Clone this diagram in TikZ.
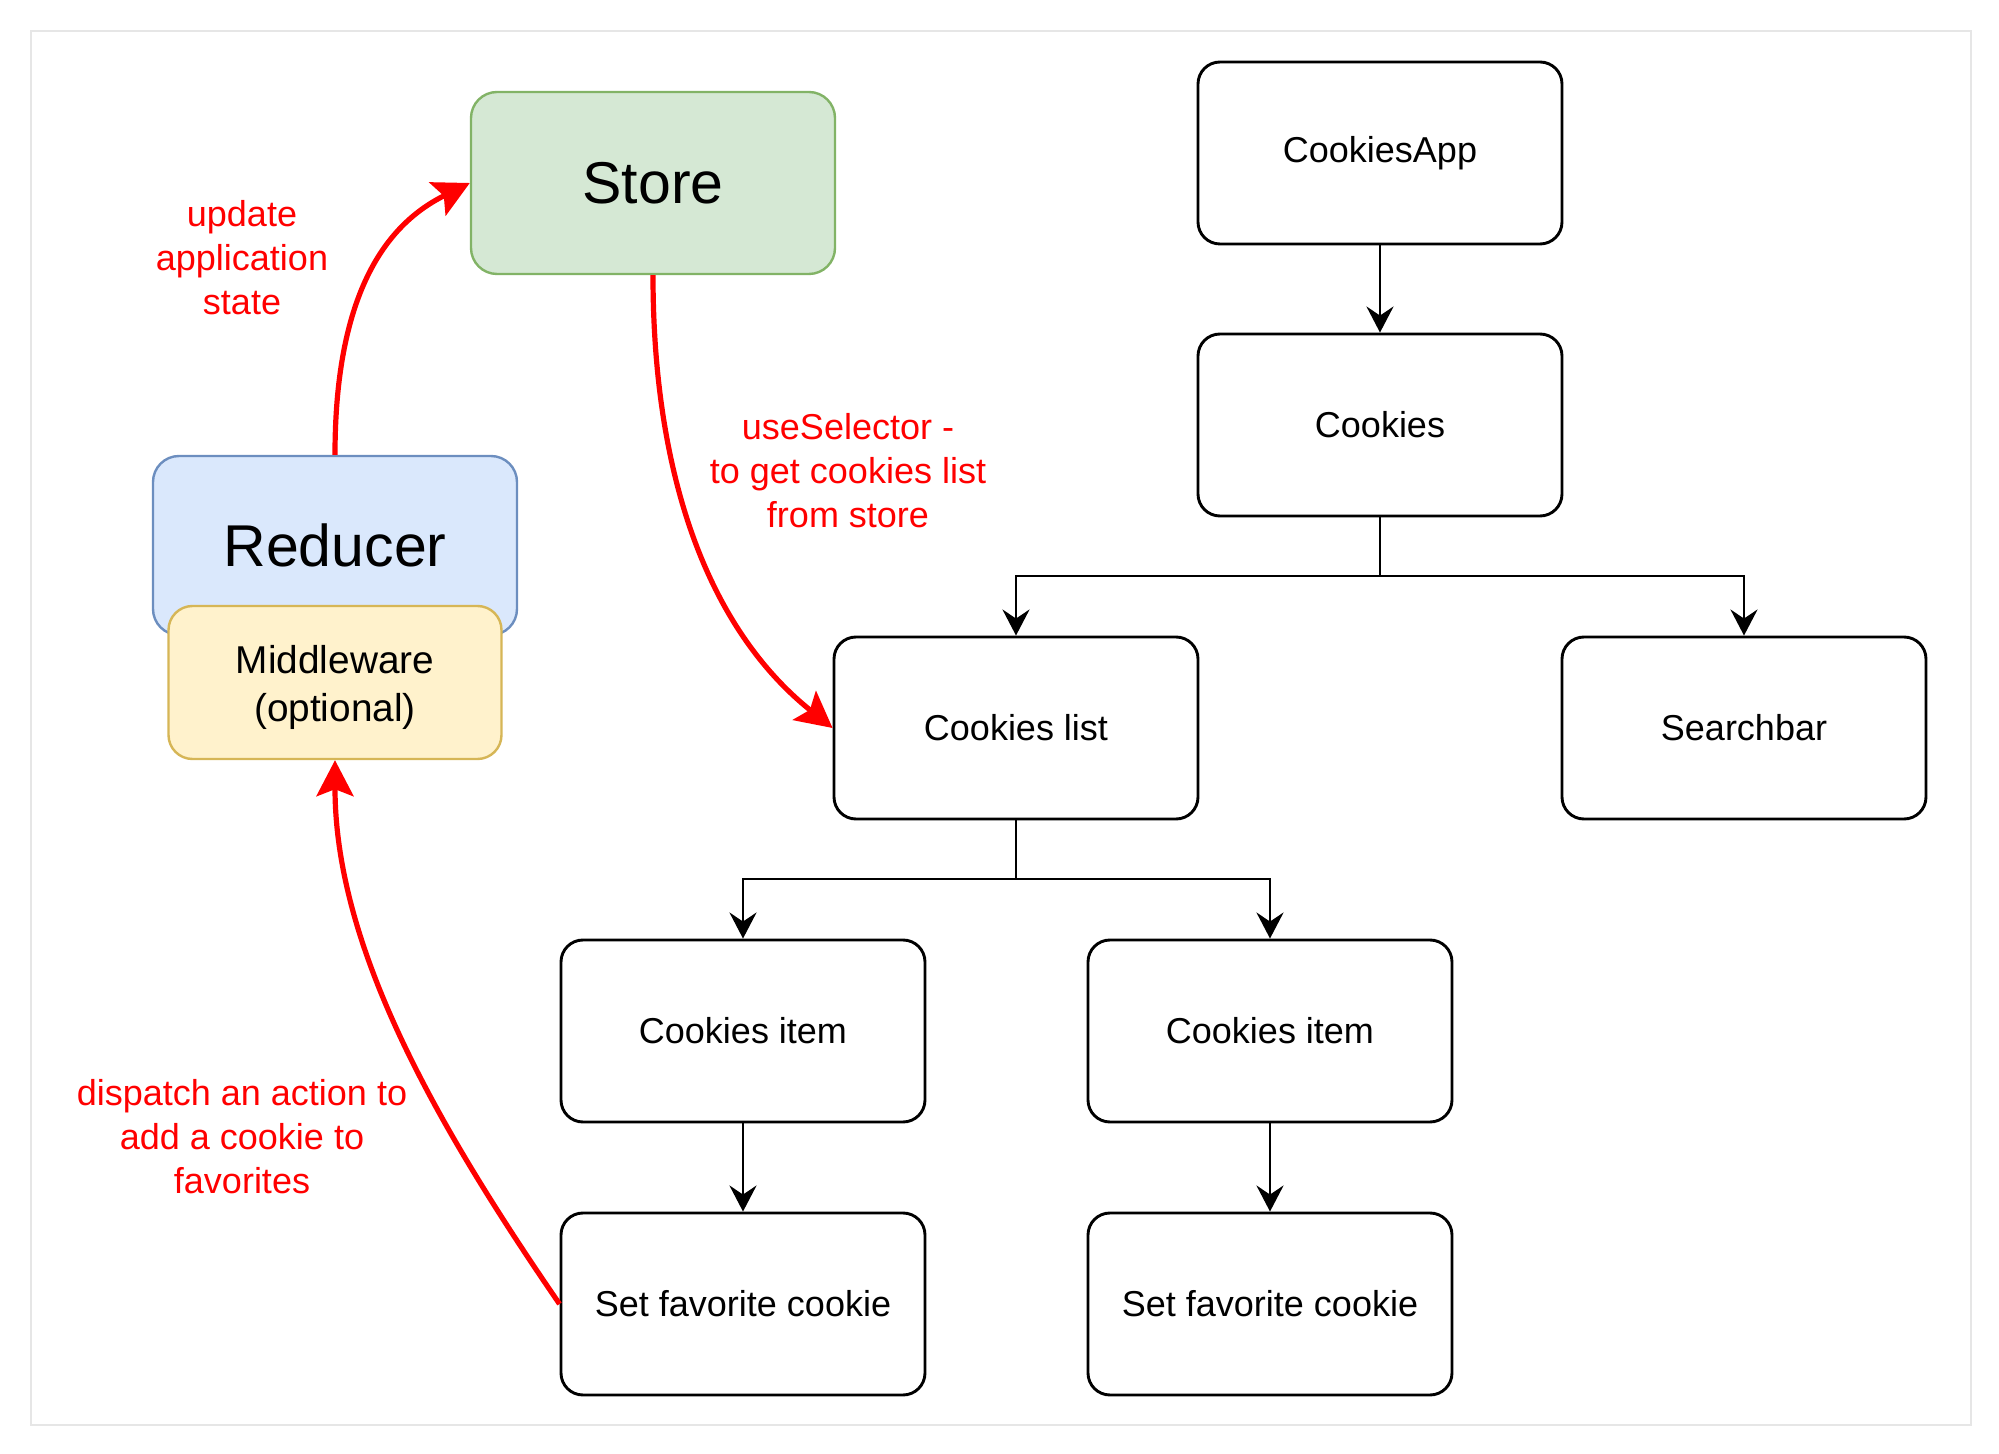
\documentclass[tikz,border=0pt]{standalone}
\usepackage{fontspec}
\setmainfont{Liberation Sans}
\usetikzlibrary{arrows.meta}
\definecolor{storefill}{HTML}{D5E8D4}
\definecolor{storeline}{HTML}{82B366}
\definecolor{redfill}{HTML}{DAE8FC}
\definecolor{redline}{HTML}{6C8EBF}
\definecolor{midfill}{HTML}{FFF2CC}
\definecolor{midline}{HTML}{D6B656}
\definecolor{framegray}{HTML}{E6E6E6}
\definecolor{labelred}{HTML}{FF0000}
\begin{document}
\begin{tikzpicture}[x=0.5pt,y=-0.5pt,
  box/.style={draw=black, line width=1.45pt, rounded corners=11pt, minimum width=182pt, minimum height=91pt, inner sep=0pt, align=center, font=\fontsize{18}{22}\selectfont},
  bigbox/.style={line width=1.2pt, rounded corners=13pt, inner sep=0pt, align=center},
  conn/.style={draw=black, line width=1.4pt, -{Stealth[length=13pt,width=13.5pt,inset=4.5pt]}},
  redconn/.style={draw=labelred, line width=2.6pt, -{Stealth[length=18pt,width=18.5pt,inset=3.5pt]}},
  redlabel/.style={text=labelred, align=center, font=\fontsize{18}{22}\selectfont, inner sep=0pt}]
\useasboundingbox (0,0) rectangle (1999,1454);
\draw[framegray, line width=0.6pt] (31,31) rectangle (1971,1425);

% colored boxes
\node[bigbox, draw=storeline, fill=storefill, minimum width=182pt, minimum height=91pt, font=\fontsize{29.5}{34}\selectfont] (store) at (653,183) {Store};
\node[bigbox, draw=redline, fill=redfill, minimum width=182pt, minimum height=89.5pt, font=\fontsize{29.5}{34}\selectfont] (reducer) at (335,545.5) {Reducer};
\node[bigbox, draw=midline, fill=midfill, minimum width=166.5pt, minimum height=76.5pt, rounded corners=12pt] (mid) at (335,682.5) {\raisebox{-2.5pt}[\height][\depth]{\parbox{160pt}{\centering\fontsize{19.4}{24}\selectfont Middleware\\(optional)}}};

% component tree
\node[box] (app) at (1380,153) {CookiesApp};
\node[box] (cookies) at (1380,425) {Cookies};
\node[box] (clist) at (1016,728) {Cookies list};
\node[box] (search) at (1744,728) {Searchbar};
\node[box] (item1) at (743,1031) {Cookies item};
\node[box] (item2) at (1270,1031) {Cookies item};
\node[box] (fav1) at (743,1304) {Set favorite cookie};
\node[box] (fav2) at (1270,1304) {Set favorite cookie};

\coordinate (j1) at (1380,576);
\coordinate (j2) at (1016,879);

\draw[conn] (app.south) -- (cookies.north);
\draw[line width=1.4pt] (cookies.south) -- (j1);
\draw[conn] (j1) -| (clist.north);
\draw[conn] (j1) -| (search.north);
\draw[line width=1.4pt] (clist.south) -- (j2);
\draw[conn] (j2) -| (item1.north);
\draw[conn] (j2) -| (item2.north);
\draw[conn] (item1.south) -- (fav1.north);
\draw[conn] (item2.south) -- (fav2.north);

% red flows
\draw[redconn] (reducer.north) .. controls (335,280) and (395,220) .. (store.west);
\draw[redconn] (store.south) .. controls (653,480) and (710,630) .. (clist.west);
\draw[redconn] (fav1.west) .. controls (440,1130) and (335,950) .. (mid.south);

% labels
\node[redlabel] (lab1) at (242,258) {update\\application\\state};
\node[redlabel] (lab2) at (848,471) {useSelector -\\to get cookies list\\from store};
\node[redlabel] (lab3) at (242,1137) {dispatch an action to\\add a cookie to\\favorites};
\end{tikzpicture}
\end{document}
